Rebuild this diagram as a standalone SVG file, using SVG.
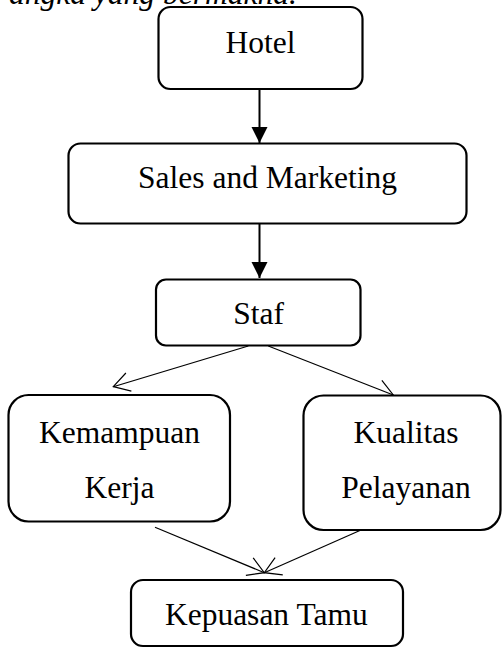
<svg xmlns="http://www.w3.org/2000/svg" width="503" height="648" viewBox="0 0 503 648">
<style>
text{font-family:"Liberation Serif","Times New Roman",serif;font-size:31.5px;fill:#000;text-anchor:middle}
.box{fill:#fff;stroke:#000;stroke-width:2.2}
.thick{stroke:#000;stroke-width:2;fill:none}
.thin{stroke:#000;stroke-width:1.2;fill:none}
</style>
<defs>
<marker id="solid" markerUnits="userSpaceOnUse" markerWidth="18" markerHeight="18" viewBox="-17 -9 18 18" refX="0" refY="0" orient="auto" overflow="visible">
<path d="M-16,-8 L0,0 L-16,8 Z" fill="#000"/>
</marker>
<marker id="open" markerUnits="userSpaceOnUse" markerWidth="22" markerHeight="24" viewBox="-19 -12 22 24" refX="0" refY="0" orient="auto" overflow="visible">
<path d="M-16,-9.5 L0,0 L-16,9.5" fill="none" stroke="#000" stroke-width="1.2"/>
</marker>
</defs>
<text x="9" y="4" style="text-anchor:start;font-style:italic">angka yang bermakna.</text>
<g id="connectors">
<line class="thick" x1="259.5" y1="89" x2="259.5" y2="143" marker-end="url(#solid)"/>
<line class="thick" x1="259.5" y1="223" x2="259.5" y2="278" marker-end="url(#solid)"/>
<line class="thin" x1="248.3" y1="346" x2="113.3" y2="386.7" marker-end="url(#open)"/>
<line class="thin" x1="268.3" y1="346" x2="393.3" y2="395" marker-end="url(#open)"/>
<line class="thin" x1="155" y1="527.3" x2="264.3" y2="572.7" marker-end="url(#open)"/>
<line class="thin" x1="365" y1="528.3" x2="264.3" y2="572.7" marker-end="url(#open)"/>
</g>
<g id="hotel">
<rect class="box" x="158.5" y="7" width="204" height="82" rx="12"/>
<text x="260.5" y="53">Hotel</text>
</g>
<g id="sales">
<rect class="box" x="68.5" y="143.5" width="398" height="80" rx="12"/>
<text x="267.5" y="188">Sales and Marketing</text>
</g>
<g id="staf">
<rect class="box" x="156" y="279.5" width="204.5" height="66" rx="10"/>
<text x="258.7" y="324">Staf</text>
</g>
<g id="kemampuan">
<rect class="box" x="8.5" y="395" width="221.5" height="126.5" rx="20"/>
<text x="119.5" y="442.7">Kemampuan</text>
<text x="119.5" y="498">Kerja</text>
</g>
<g id="kualitas">
<rect class="box" x="303.5" y="395.5" width="197" height="134.5" rx="20"/>
<text x="406" y="442.7">Kualitas</text>
<text x="406" y="498">Pelayanan</text>
</g>
<g id="kepuasan">
<rect class="box" x="131" y="580" width="272" height="66" rx="12"/>
<text x="266.3" y="625">Kepuasan Tamu</text>
</g>
</svg>
